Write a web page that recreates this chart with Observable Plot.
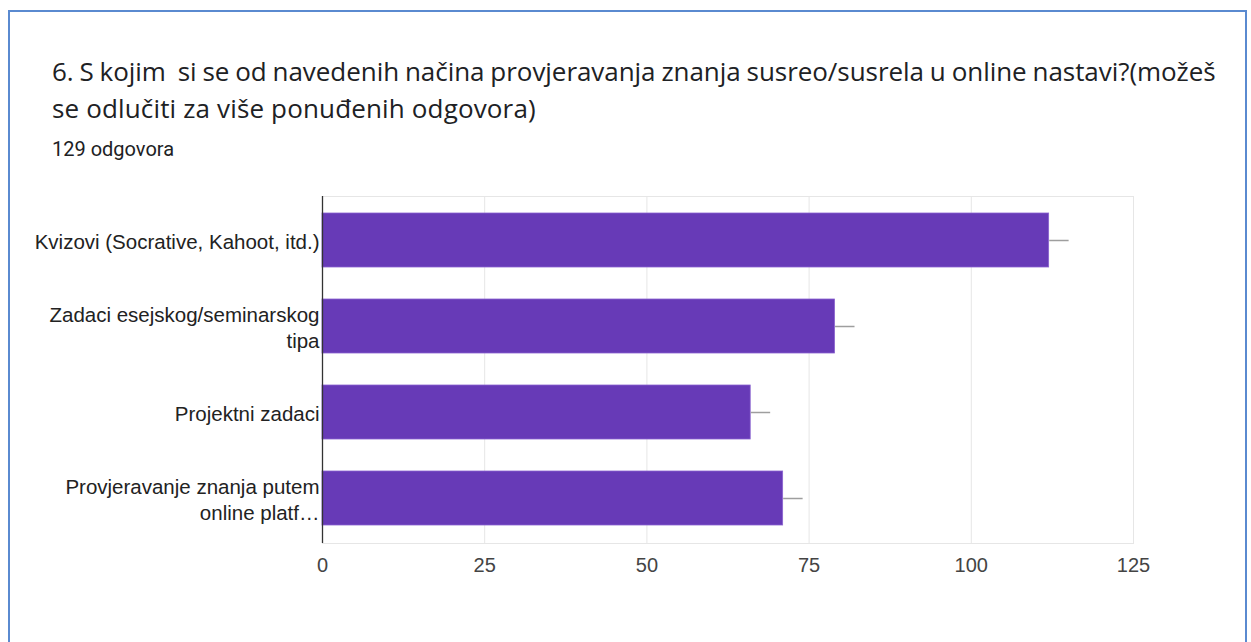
<!DOCTYPE html>
<html>
<head>
<meta charset="utf-8">
<script src="https://cdn.jsdelivr.net/npm/d3@7"></script>
<script src="https://cdn.jsdelivr.net/npm/@observablehq/plot@0.6"></script>
<style>
  html, body { margin: 0; padding: 0; background: #fff; width: 1251px; height: 642px; overflow: hidden; }
  #frame { position: absolute; left: 8px; top: 10px; width: 1239px; height: 640px; border: 2px solid #5a8ad0; box-sizing: border-box; }
  #title { position: absolute; left: 52px; top: 53px; width: 1195px; font-family: "Open Sans", sans-serif; font-size: 26px; line-height: 37px; color: #202124; letter-spacing: 0.15px; white-space: nowrap; }
  #title .l1 { letter-spacing: -0.05px; word-spacing: -0.8px; }
  #sub { position: absolute; left: 52px; top: 137px; font-family: Roboto, sans-serif; font-size: 20px; color: #202124; }
  #chart { position: absolute; left: 0; top: 180px; }
</style>
</head>
<body>
<div id="frame"></div>
<div id="title"><span class="l1">6. S kojim&nbsp; si se od navedenih načina provjeravanja znanja susreo/susrela u online nastavi?(možeš</span><br>se odlučiti za više ponuđenih odgovora)</div>
<div id="sub">129 odgovora</div>
<div id="chart"></div>
<script>
const categories = [
  "Kvizovi (Socrative, Kahoot, itd.)",
  "Zadaci esejskog/seminarskog\ntipa",
  "Projektni zadaci",
  "Provjeravanje znanja putem\nonline platf…"
];
const counts = [112, 79, 66, 71];
const whiskerEnds = [115, 82, 69, 74];
const xTicks = [0, 25, 50, 75, 100, 125];

const data = categories.map((c, i) => ({cat: c, n: counts[i], hi: whiskerEnds[i]}));

const chart = Plot.plot({
  width: 1251,
  height: 420,
  marginLeft: 322,
  marginRight: 118,
  marginTop: 16,
  marginBottom: 57,
  style: {fontFamily: "'Liberation Sans', Arial, sans-serif", fontSize: "20.5px", color: "#222"},
  x: {domain: [0, 125], ticks: xTicks, label: null},
  y: {domain: categories, label: null, paddingInner: 0.37, paddingOuter: 0.185},
  marks: [
    Plot.frame({stroke: "#e6e6e6"}),
    Plot.gridX(xTicks, {stroke: "#e6e6e6", strokeOpacity: 1}),
    Plot.axisX({ticks: xTicks, tickSize: 0, tickPadding: 14, fontSize: 20, color: "#444", label: null}),
    Plot.axisY({tickSize: 0, tickPadding: 3, fontSize: 20.5, lineHeight: 1.28, color: "#222", label: null}),
    Plot.barX(data, {x: "n", y: "cat", fill: "#673ab7", stroke: "#8a63cf", strokeWidth: 0.8}),
    Plot.link(data, {x1: "n", x2: "hi", y1: "cat", y2: "cat", stroke: "#9e9e9e", strokeWidth: 1.5}),
    Plot.ruleX([0], {stroke: "#333", strokeWidth: 1.3})
  ]
});
document.getElementById("chart").appendChild(chart);
</script>
</body>
</html>
